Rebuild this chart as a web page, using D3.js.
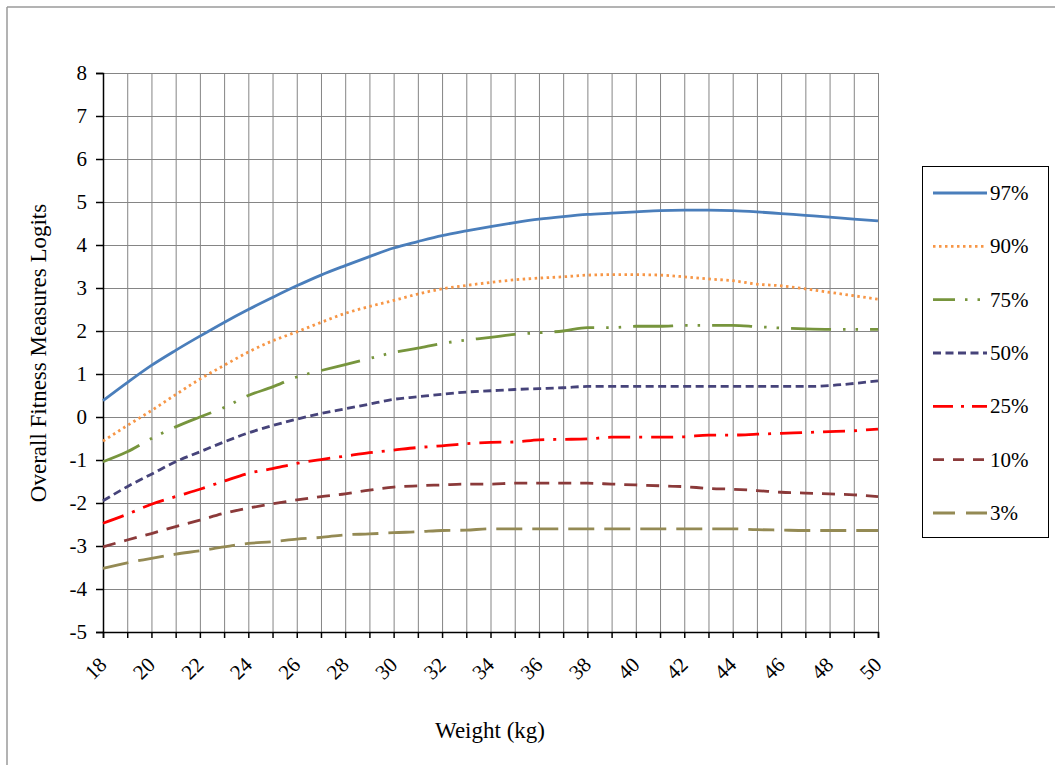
<!DOCTYPE html>
<html>
<head>
<meta charset="utf-8">
<script src="https://cdn.jsdelivr.net/npm/d3@7"></script>
<style>
  html, body { margin: 0; padding: 0; background: #fff; }
  svg { display: block; }
  text { font-family: "Liberation Serif", "Times New Roman", serif; fill: #000; }
</style>
</head>
<body>
<svg id="chart" width="1055" height="765"></svg>
<script>
// ---- data ----
const weights = [18,19,20,21,22,23,24,25,26,27,28,29,30,31,32,33,34,35,36,37,38,39,40,41,42,43,44,45,46,47,48,49,50];
const xTickLabels = [18,20,22,24,26,28,30,32,34,36,38,40,42,44,46,48,50];
const yTickLabels = [-5,-4,-3,-2,-1,0,1,2,3,4,5,6,7,8];
const seriesNames = ["97%","90%","75%","50%","25%","10%","3%"];
const p97 = [0.38,0.8,1.2,1.55,1.88,2.2,2.5,2.78,3.05,3.3,3.52,3.73,3.93,4.08,4.22,4.33,4.43,4.52,4.6,4.66,4.71,4.74,4.77,4.8,4.81,4.81,4.8,4.77,4.73,4.69,4.65,4.6,4.56];
const p90 = [-0.56,-0.2,0.15,0.52,0.88,1.2,1.51,1.77,1.98,2.2,2.41,2.57,2.71,2.86,2.98,3.06,3.13,3.19,3.23,3.26,3.3,3.31,3.31,3.3,3.26,3.21,3.17,3.09,3.05,2.98,2.9,2.82,2.74];
const p75 = [-1.04,-0.81,-0.5,-0.23,0,0.22,0.5,0.7,0.93,1.08,1.22,1.36,1.5,1.6,1.71,1.79,1.85,1.92,1.96,2.0,2.08,2.08,2.11,2.11,2.13,2.13,2.13,2.1,2.07,2.05,2.04,2.04,2.04];
const p50 = [-1.95,-1.62,-1.33,-1.04,-0.81,-0.58,-0.37,-0.2,-0.05,0.08,0.19,0.3,0.41,0.47,0.53,0.58,0.61,0.64,0.66,0.68,0.71,0.71,0.71,0.71,0.71,0.71,0.71,0.71,0.71,0.71,0.73,0.78,0.84];
const p25 = [-2.47,-2.26,-2.03,-1.85,-1.68,-1.49,-1.31,-1.2,-1.08,-0.99,-0.91,-0.83,-0.77,-0.71,-0.67,-0.62,-0.59,-0.58,-0.53,-0.52,-0.51,-0.47,-0.47,-0.47,-0.46,-0.42,-0.42,-0.4,-0.38,-0.36,-0.34,-0.32,-0.28];
const p10 = [-3.02,-2.86,-2.71,-2.55,-2.4,-2.24,-2.12,-2.02,-1.93,-1.85,-1.79,-1.7,-1.63,-1.6,-1.58,-1.56,-1.56,-1.54,-1.54,-1.54,-1.54,-1.56,-1.58,-1.6,-1.62,-1.66,-1.68,-1.71,-1.75,-1.77,-1.79,-1.81,-1.85];
const p3  = [-3.52,-3.39,-3.29,-3.19,-3.11,-3.02,-2.94,-2.9,-2.84,-2.8,-2.74,-2.72,-2.69,-2.67,-2.64,-2.63,-2.6,-2.6,-2.6,-2.6,-2.6,-2.6,-2.6,-2.6,-2.6,-2.6,-2.6,-2.62,-2.63,-2.64,-2.64,-2.64,-2.64];

// ---- styles ----
const seriesValues = [p97,p90,p75,p50,p25,p10,p3];
const colors = ["#4a7ebb","#f79646","#77953d","#46437a","#ff0000","#8b3a3a","#948a54"];
const dashes = ["none","2.5,3.5","40,12,2.5,10,2.5,12","8,4.5","22,9,3,9","13,9","26,10"];
const legendDashes = ["none","2.5,3.5","22,10,2.5,10,2.5,10","8,4.5","20,8,3,8","11,9","22,11"];

const svg = d3.select("#chart");

// outer frame
svg.append("line").attr("x1",7).attr("x2",1055).attr("y1",7).attr("y2",7).attr("stroke","#9a9a9a").attr("stroke-width",1.5);
svg.append("line").attr("x1",7).attr("x2",7).attr("y1",7).attr("y2",765).attr("stroke","#9a9a9a").attr("stroke-width",1.5);

const x = d3.scaleLinear().domain([18,50]).range([103,878]);
const y = d3.scaleLinear().domain([-5,8]).range([632,73]);

// gridlines
const grid = svg.append("g");
grid.selectAll("line.v").data(weights).join("line")
  .attr("x1",d=>x(d)+0.5).attr("x2",d=>x(d)+0.5).attr("y1",y(8)).attr("y2",y(-5))
  .attr("stroke","#858585").attr("stroke-width",1);
grid.selectAll("line.h").data(yTickLabels).join("line")
  .attr("x1",x(18)).attr("x2",x(50)).attr("y1",d=>y(d)+0.5).attr("y2",d=>y(d)+0.5)
  .attr("stroke","#858585").attr("stroke-width",1);

// axes
const yAxis = d3.axisLeft(y).tickValues(yTickLabels).tickSize(7).tickPadding(9).tickFormat(d=>String(d));
const yg = svg.append("g").attr("transform",`translate(${x(18)},0)`).call(yAxis);
yg.select(".domain").attr("stroke","#000").attr("stroke-width",1.5);
yg.selectAll(".tick line").attr("stroke","#000").attr("stroke-width",1.5);
yg.selectAll("text").style("font-size","21px").style("font-family","Liberation Serif, serif");

const xAxis = d3.axisBottom(x).tickValues(weights).tickSize(6).tickFormat("");
const xg = svg.append("g").attr("transform",`translate(0,${y(-5)})`).call(xAxis);
xg.select(".domain").attr("stroke","#000").attr("stroke-width",1.5);
xg.selectAll(".tick line").attr("stroke","#000").attr("stroke-width",1.5);

// rotated x labels
svg.append("g").selectAll("text").data(xTickLabels).join("text")
  .attr("x",d=>x(d)+5).attr("y",666)
  .attr("text-anchor","end")
  .attr("transform",d=>`rotate(-45,${x(d)+5},666)`)
  .style("font-size","21px")
  .text(d=>d);

// axis titles
svg.append("text").attr("x",490).attr("y",738).attr("text-anchor","middle").style("font-size","23px").text("Weight (kg)");
svg.append("text").attr("transform","translate(46,353) rotate(-90)").attr("text-anchor","middle").style("font-size","23px").text("Overall Fitness Measures Logits");

// lines
const line = d3.line().x((d,i)=>x(weights[i])).y(d=>y(d)).curve(d3.curveMonotoneX);
svg.append("g").selectAll("path").data(seriesValues).join("path")
  .attr("d",d=>line(d))
  .attr("fill","none")
  .attr("stroke",(d,i)=>colors[i])
  .attr("stroke-width",2.8)
  .attr("stroke-dasharray",(d,i)=>dashes[i]);

// legend
const lg = svg.append("g");
lg.append("rect").attr("x",922.5).attr("y",166.5).attr("width",126).attr("height",371)
  .attr("fill","#fff").attr("stroke","#000").attr("stroke-width",1);
const ly = d3.scalePoint().domain(seriesNames).range([193,513]);
seriesNames.forEach((name,i)=>{
  lg.append("line").attr("x1",933).attr("x2",987).attr("y1",ly(name)).attr("y2",ly(name))
    .attr("stroke",colors[i]).attr("stroke-width",2.8).attr("stroke-dasharray",legendDashes[i]);
  lg.append("text").attr("x",990).attr("y",ly(name)+7).style("font-size","21px").text(name);
});
</script>
</body>
</html>
